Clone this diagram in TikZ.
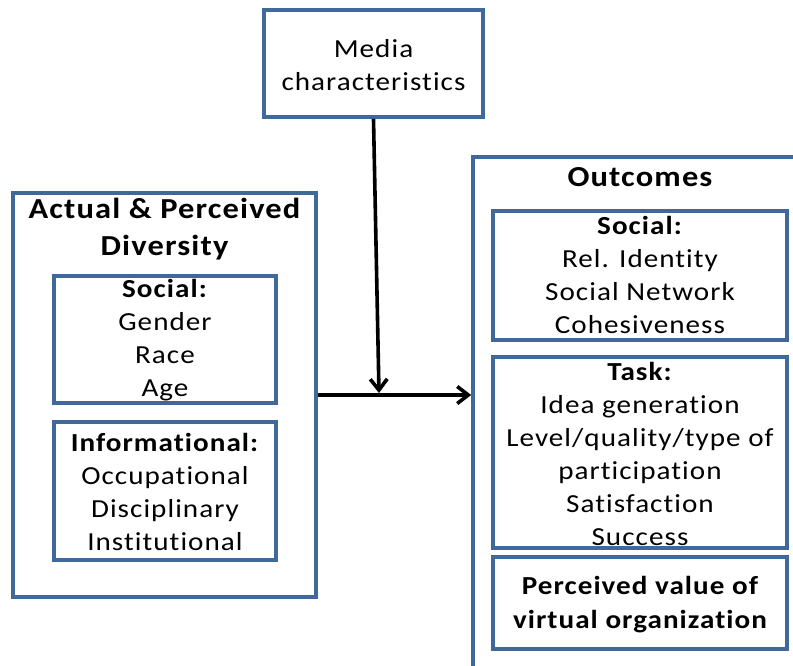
\documentclass[tikz,border=0pt]{standalone}
\usepackage{fontspec}
\setmainfont[FakeStretch=1.12, LetterSpace=4, Ligatures=NoCommon]{Carlito}
\usetikzlibrary{arrows.meta}
\definecolor{boxblue}{HTML}{41689A}
\tikzset{
  box/.style={draw=boxblue, line width=3.6pt, inner sep=0pt, rectangle},
  txt/.style={align=center, inner sep=0pt, font=\fontsize{26}{33}\selectfont},
  btxt/.style={align=center, inner sep=0pt, font=\fontsize{26}{34}\selectfont\bfseries},
  arr/.style={line width=3.6pt, -{Straight Barb[length=11pt,width=17pt]}}
}
\begin{document}
\begin{tikzpicture}[x=1pt,y=-1pt]
\useasboundingbox (0,0) rectangle (793,665);
\clip (0,0) rectangle (793,665);
% boxes
\node[box, minimum width=219pt, minimum height=107pt] (media) at (373.5,63.5) {};
\node[box, minimum width=303pt, minimum height=404pt] (diversity) at (164.5,395) {};
\node[box, minimum width=222pt, minimum height=127pt] (lsocial) at (165,339.5) {};
\node[box, minimum width=222pt, minimum height=138pt] (inform) at (165,491) {};
\node[box, minimum width=357pt, minimum height=563pt] (outcomes) at (651.5,438.5) {};
\node[box, minimum width=294pt, minimum height=129pt] (osocial) at (640,275.5) {};
\node[box, minimum width=294pt, minimum height=191pt] (task) at (640,452.5) {};
\node[box, minimum width=294pt, minimum height=92pt] (perceived) at (640,603) {};
% texts
\node[txt] (mediatxt) at (373.5,65) {Media\\characteristics};
\node[btxt, font=\fontsize{29}{37}\selectfont\bfseries] (divtitle) at (164.5,229) {Actual \& Perceived\\Diversity};
\node[txt] (lsocialtxt) at (165,340) {\textbf{Social:}\\Gender\\Race\\Age};
\node[txt] (informtxt) at (165,491.5) {\textbf{Informational:}\\Occupational\\Disciplinary\\Institutional};
\node[btxt, font=\fontsize{29}{37}\selectfont\bfseries] (outtitle) at (640,177) {Outcomes};
\node[txt] (osocialtxt) at (640,275) {\textbf{Social:}\\Rel. Identity\\Social Network\\Cohesiveness};
\node[txt] (tasktxt) at (640,454) {\textbf{Task:}\\Idea generation\\Level/quality/type of\\participation\\Satisfaction\\Success};
\node[btxt] (perceivedtxt) at (640,605) {Perceived value of\\virtual organization};
% connectors
\coordinate (join) at (379,393);
\draw[arr] (diversity.east) -- (outcomes.west |- diversity.east);
\draw[arr] (media.south) -- (join);
\end{tikzpicture}
\end{document}
